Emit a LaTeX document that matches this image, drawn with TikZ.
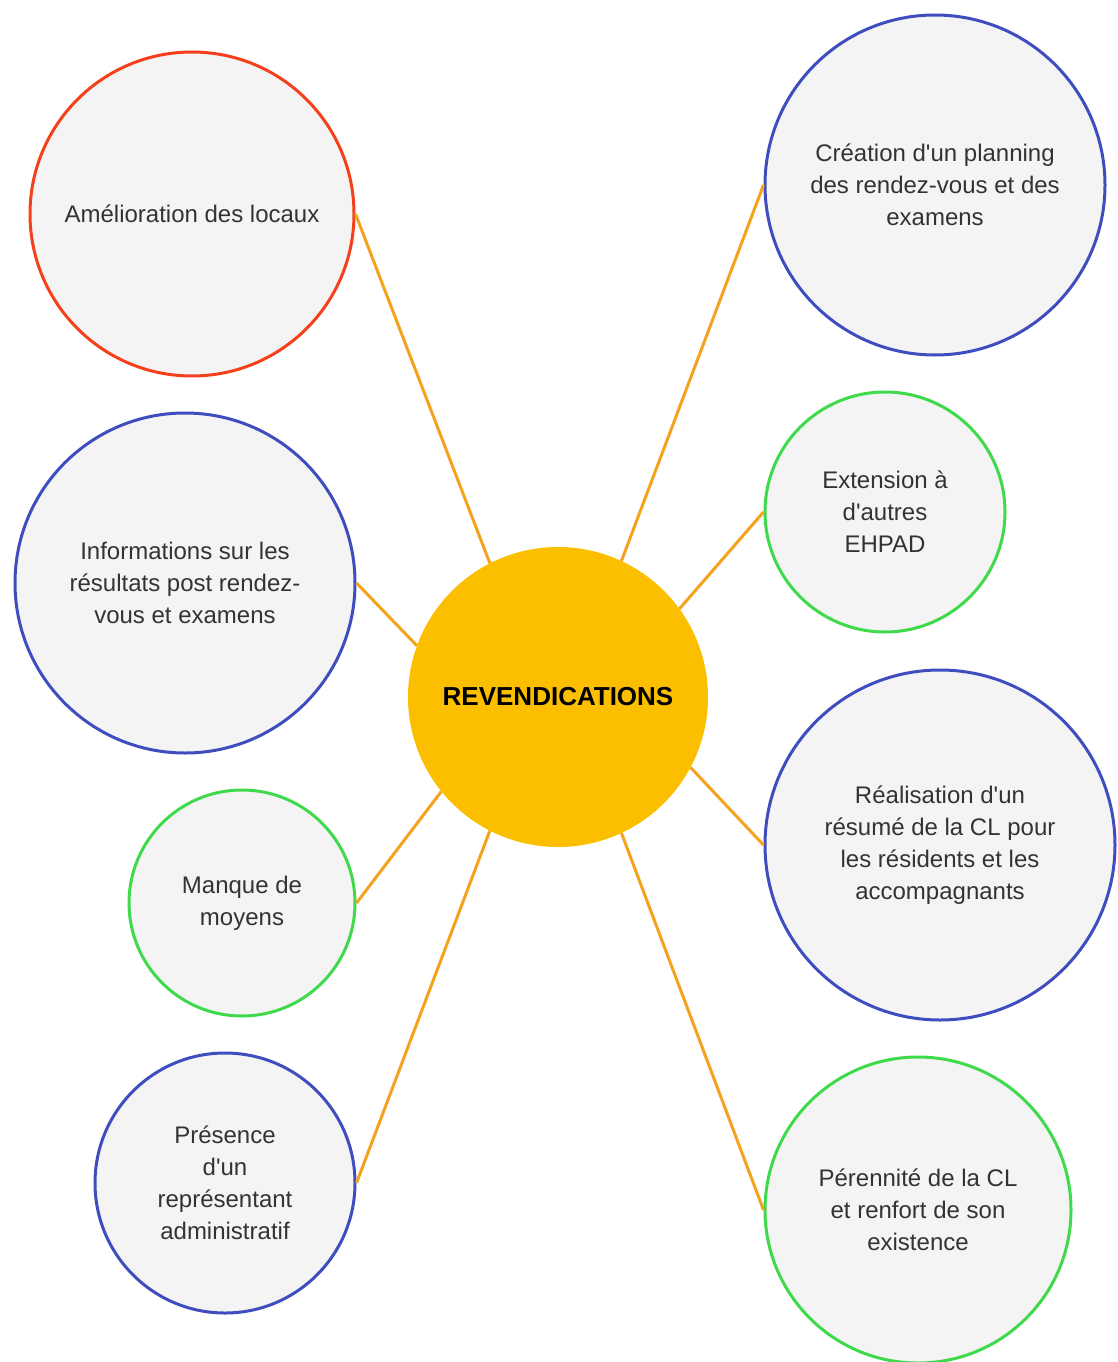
\documentclass[tikz,border=0pt]{standalone}
\usepackage{fontspec}
\setmainfont{Liberation Sans}
\usepackage{tikz}
\usetikzlibrary{calc, shapes, arrows}

\definecolor{claimfill}{HTML}{F4F4F4}
\definecolor{claimtext}{HTML}{333333}
\definecolor{hubfill}{HTML}{FBBF00}
\definecolor{linkcol}{HTML}{F5A21F}
\definecolor{redline}{HTML}{F5401C}
\definecolor{blueline}{HTML}{3F4DBF}
\definecolor{greenline}{HTML}{3FDA4C}
\newcommand{\q}{\textquotesingle}

\begin{document}
\begin{tikzpicture}[x=1pt,y=-1pt]
\tikzstyle{claim}=[circle,draw,line width=3pt,fill=claimfill,text=claimtext,align=center,inner sep=0pt,font=\fontsize{24}{32}\selectfont]
\tikzstyle{link}=[draw=linkcol,line width=3pt]
\useasboundingbox (0,0) rectangle (1117,1362);
\node[circle,fill=hubfill,minimum size=300pt,inner sep=0pt,font=\fontsize{26}{30}\selectfont\bfseries] (C_0) at (558,697) {REVENDICATIONS};
% left side
\node[claim,draw=redline,minimum size=324pt] (C_1) at (192,214) {Amélioration des locaux};
\node[claim,draw=blueline,minimum size=340pt] (C_2) at (185,583) {Informations sur les\\résultats post rendez-\\vous et examens};
\node[claim,draw=greenline,minimum size=226pt] (C_3) at (242,903) {Manque de\\moyens};
\node[claim,draw=blueline,minimum size=260pt] (C_4) at (225,1183) {Présence\\d\q un\\représentant\\administratif};
% right side
\node[claim,draw=blueline,minimum size=340pt] (C_5) at (935,185) {Création d\q un planning\\des rendez-vous et des\\examens};
\node[claim,draw=greenline,minimum size=240pt] (C_6) at (885,512) {Extension à\\d\q autres\\EHPAD};
\node[claim,draw=blueline,minimum size=350pt] (C_7) at (940,845) {Réalisation d\q un\\résumé de la CL pour\\les résidents et les\\accompagnants};
\node[claim,draw=greenline,minimum size=306pt] (C_8) at (918,1210) {Pérennité de la CL\\et renfort de son\\existence};
\draw[link] (C_0.117) -- (C_1.east);
\draw[link] (C_0.160) -- (C_2.east);
\draw[link] (C_0.219) -- (C_3.east);
\draw[link] (C_0.243) -- (C_4.east);
\draw[link] (C_0.65) -- (C_5.west);
\draw[link] (C_0.36) -- (C_6.west);
\draw[link] (C_0.-28) -- (C_7.west);
\draw[link] (C_0.-65) -- (C_8.west);
\end{tikzpicture}
\end{document}
